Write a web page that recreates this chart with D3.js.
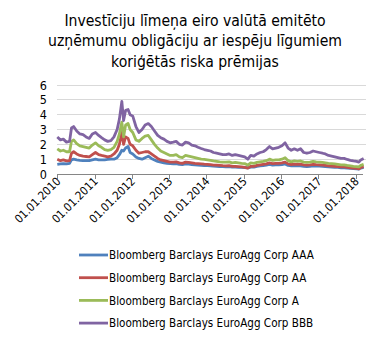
<!DOCTYPE html>
<html><head><meta charset="utf-8">
<script src="https://cdn.jsdelivr.net/npm/d3@7"></script>
<style>
html,body{margin:0;padding:0;background:#fff;}
text{font-family:"DejaVu Sans Condensed","DejaVu Sans",sans-serif;font-stretch:condensed;fill:#000;}
</style></head>
<body><svg id="c" width="391" height="339"></svg>
<script>
const titleLines = ["Investīciju līmeņa eiro valūtā emitēto","uzņēmumu obligāciju ar iespēju līgumiem","koriģētās riska prēmijas"];
const seriesNames = ["Bloomberg Barclays EuroAgg Corp AAA","Bloomberg Barclays EuroAgg Corp AA","Bloomberg Barclays EuroAgg Corp A","Bloomberg Barclays EuroAgg Corp BBB"];
const seriesColors = ["#4F81BD","#C0504D","#9BBB59","#8064A2"];
const yTicks = [0,1,2,3,4,5,6];
const xTickLabels = ["01.01.2010","01.01.2011","01.01.2012","01.01.2013","01.01.2014","01.01.2015","01.01.2016","01.01.2017","01.01.2018"];
const dates = [
"2010-01-01","2010-02-01","2010-03-01","2010-04-01","2010-05-01","2010-05-20","2010-06-10","2010-07-10","2010-08-10","2010-09-10","2010-10-10","2010-11-10","2010-12-10",
"2011-01-10","2011-02-10","2011-03-10","2011-04-10","2011-05-10","2011-06-10","2011-07-10","2011-08-10","2011-09-01","2011-09-25","2011-10-12","2011-11-01","2011-11-25","2011-12-15",
"2012-01-10","2012-02-10","2012-03-10","2012-04-10","2012-05-10","2012-06-10","2012-07-10","2012-08-10","2012-09-10","2012-10-10","2012-11-10","2012-12-10",
"2013-01-10","2013-02-10","2013-03-10","2013-04-10","2013-05-10","2013-06-10","2013-07-10","2013-08-10","2013-09-10","2013-10-10","2013-11-10","2013-12-10",
"2014-01-10","2014-02-10","2014-03-10","2014-04-10","2014-05-10","2014-06-10","2014-07-10","2014-08-10","2014-09-10","2014-10-10","2014-11-10","2014-12-10",
"2015-01-10","2015-02-10","2015-03-10","2015-04-10","2015-05-10","2015-06-10","2015-07-10","2015-08-10","2015-09-10","2015-10-10","2015-11-10","2015-12-10",
"2016-01-10","2016-02-10","2016-03-10","2016-04-10","2016-05-10","2016-06-10","2016-07-10","2016-08-10","2016-09-10","2016-10-10","2016-11-10","2016-12-10",
"2017-01-10","2017-02-10","2017-03-10","2017-04-10","2017-05-10","2017-06-10","2017-07-10","2017-08-10","2017-09-10","2017-10-10","2017-11-10","2017-12-10",
"2018-01-10","2018-02-01","2018-02-20","2018-03-20"];
const aaa = [
0.65,0.68,0.7,0.68,0.72,0.95,1.0,0.95,0.92,0.9,0.9,0.9,0.95,
1.0,0.95,0.95,0.95,0.98,1.0,1.0,1.1,1.3,1.6,1.55,1.75,1.85,1.45,
1.35,1.15,1.05,1.0,1.1,1.2,1.05,0.95,0.85,0.8,0.75,0.72,
0.7,0.68,0.7,0.65,0.63,0.68,0.66,0.64,0.62,0.6,0.58,0.57,
0.56,0.55,0.53,0.52,0.5,0.5,0.48,0.5,0.46,0.46,0.45,0.44,
0.43,0.42,0.47,0.47,0.52,0.55,0.57,0.6,0.65,0.6,0.62,0.62,
0.64,0.68,0.58,0.55,0.56,0.55,0.55,0.52,0.5,0.52,0.55,0.54,
0.53,0.52,0.5,0.48,0.47,0.45,0.44,0.42,0.42,0.4,0.38,0.36,
0.35,0.33,0.4,0.45];
const aa = [
1.0,0.9,0.95,0.88,0.9,1.4,1.5,1.35,1.25,1.2,1.18,1.15,1.3,
1.45,1.3,1.25,1.2,1.15,1.2,1.35,1.6,2.0,2.8,2.0,2.5,2.4,2.0,
1.9,1.6,1.4,1.45,1.5,1.5,1.35,1.2,1.05,0.95,0.9,0.85,
0.8,0.8,0.82,0.75,0.72,0.8,0.78,0.75,0.72,0.7,0.68,0.66,
0.65,0.63,0.6,0.6,0.58,0.56,0.55,0.56,0.52,0.52,0.5,0.48,
0.45,0.4,0.52,0.52,0.58,0.62,0.65,0.68,0.75,0.7,0.72,0.72,
0.75,0.8,0.68,0.64,0.66,0.65,0.66,0.62,0.6,0.62,0.65,0.63,
0.62,0.6,0.58,0.55,0.54,0.52,0.5,0.48,0.48,0.45,0.42,0.4,
0.38,0.35,0.45,0.5];
const a = [
1.7,1.55,1.6,1.5,1.5,2.2,2.3,2.05,1.9,1.85,1.8,1.75,1.95,
2.1,1.9,1.8,1.65,1.6,1.65,1.8,2.2,2.7,3.5,2.5,3.3,3.4,3.0,
2.8,2.3,2.2,2.4,2.55,2.6,2.3,2.0,1.75,1.55,1.45,1.35,
1.25,1.25,1.3,1.15,1.1,1.25,1.2,1.15,1.1,1.05,1.0,0.98,
0.95,0.92,0.88,0.85,0.82,0.8,0.8,0.82,0.75,0.78,0.75,0.72,
0.7,0.6,0.75,0.72,0.78,0.82,0.85,0.9,1.0,0.92,0.95,0.95,
1.0,1.1,0.9,0.82,0.88,0.85,0.88,0.8,0.78,0.8,0.85,0.82,
0.8,0.78,0.75,0.72,0.7,0.68,0.65,0.62,0.62,0.58,0.55,0.52,
0.5,0.48,0.58,0.65];
const bbb = [
2.5,2.3,2.35,2.15,2.2,3.1,3.2,2.9,2.7,2.65,2.5,2.4,2.7,
2.8,2.6,2.45,2.3,2.2,2.25,2.5,3.0,3.7,4.9,3.6,4.3,4.35,4.0,
3.9,3.2,2.8,3.0,3.3,3.4,3.2,2.9,2.6,2.45,2.35,2.2,
2.1,2.15,2.2,2.0,1.95,2.15,2.1,1.95,1.9,1.8,1.72,1.65,
1.6,1.55,1.45,1.4,1.35,1.3,1.3,1.35,1.25,1.3,1.25,1.2,
1.15,1.0,1.25,1.2,1.35,1.45,1.5,1.65,1.85,1.7,1.75,1.8,
1.9,2.1,1.75,1.6,1.7,1.6,1.7,1.45,1.4,1.45,1.55,1.5,
1.45,1.4,1.35,1.25,1.2,1.15,1.1,1.05,1.05,0.98,0.92,0.88,
0.85,0.8,0.95,1.05];

const svg = d3.select("#c");
const parse = d3.timeParse("%Y-%m-%d");
const x = d3.scaleTime().domain([parse("2010-01-01"), parse("2018-04-12")]).range([57.3, 366]);
const y = d3.scaleLinear().domain([0, 6]).range([174, 85]);

// title
svg.append("g").selectAll("text").data(titleLines).join("text")
  .attr("x", 195).attr("y", (d,i) => 26 + i*20.3)
  .attr("text-anchor","middle").style("font-size","15.6px").text(d => d);

// gridlines
svg.append("g").selectAll("line").data(yTicks.filter(t => t > 0)).join("line")
  .attr("x1", x.range()[0]).attr("x2", x.range()[1])
  .attr("y1", d => y(d)).attr("y2", d => y(d))
  .attr("stroke","#d9d9d9").attr("stroke-width",1).attr("shape-rendering","crispEdges");

// y labels
svg.append("g").selectAll("text").data(yTicks).join("text")
  .attr("x", 47).attr("y", d => y(d)).attr("dy","0.36em")
  .attr("text-anchor","end").style("font-size","12.5px").text(d => d);

// series lines
const series = [aaa, aa, a, bbb];
const line = d3.line().x(d => x(d[0])).y(d => y(d[1]));
const dts = dates.map(parse);
svg.append("g").selectAll("path").data(series).join("path")
  .attr("d", s => line(s.map((v,i) => [dts[i], v])))
  .attr("fill","none").attr("stroke",(d,i) => seriesColors[i])
  .attr("stroke-width",2.8).attr("stroke-linejoin","round");

// x axis
const tickDates = xTickLabels.map(d3.timeParse("%d.%m.%Y"));
const gx = svg.append("g");
gx.append("line").attr("x1", x.range()[0]).attr("x2", x.range()[1]-3)
  .attr("y1", y(0)).attr("y2", y(0)).attr("stroke","#868686").attr("shape-rendering","crispEdges");
gx.selectAll("line.t").data(tickDates).join("line").attr("class","t")
  .attr("x1", d => Math.round(x(d))+0.5).attr("x2", d => Math.round(x(d))+0.5)
  .attr("y1", y(0)).attr("y2", y(0)+5).attr("stroke","#868686");
gx.selectAll("text").data(tickDates).join("text")
  .attr("transform", d => `translate(${x(d)+4},${y(0)+8}) rotate(-45)`)
  .attr("text-anchor","end").style("font-size","11.5px")
  .text((d,i) => xTickLabels[i]);

// legend
const lg = svg.append("g").selectAll("g").data(seriesNames).join("g")
  .attr("transform",(d,i) => `translate(0,${255 + i*22.7})`);
lg.append("line").attr("x1",79).attr("x2",108).attr("y1",0).attr("y2",0)
  .attr("stroke",(d,i) => seriesColors[i]).attr("stroke-width",2.8);
lg.append("text").attr("x",109).attr("y",0).attr("dy","0.36em")
  .style("font-size","11.6px").text(d => d);
</script></body></html>
